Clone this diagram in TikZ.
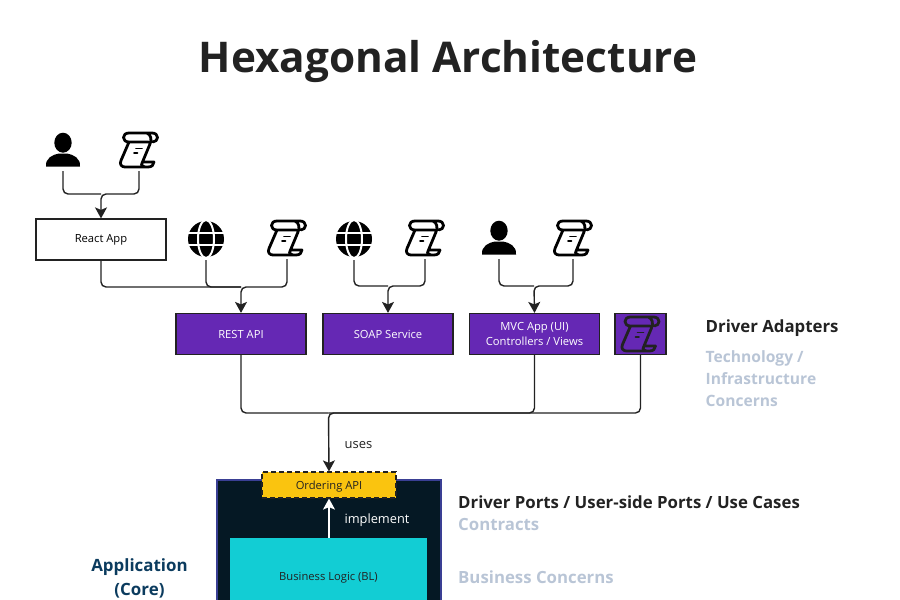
\documentclass[tikz,border=0pt]{standalone}
\usepackage{fontspec}
\setmainfont{Open Sans}
\usetikzlibrary{arrows.meta}
\definecolor{ink}{HTML}{222222}
\definecolor{purp}{HTML}{6528B4}
\definecolor{navy}{HTML}{051824}
\definecolor{navyedge}{HTML}{3A3F94}
\definecolor{amber}{HTML}{FAC40F}
\definecolor{teal}{HTML}{12CDD4}
\definecolor{mute}{HTML}{B9C5D6}
\definecolor{coreblue}{HTML}{0B3B5E}
\tikzset{
  link/.style={draw=ink,line width=1.4pt,rounded corners=5pt},
  tip/.style={-{Stealth[length=11pt,width=12pt,inset=2.5pt]}},
  icon/.style={inner sep=0pt,minimum width=38pt,minimum height=42pt},
  app/.style={draw=ink,line width=1.2pt,minimum width=130pt,minimum height=41pt,inner sep=0pt,align=center,font=\fontsize{11.2pt}{15pt}\selectfont},
  adapter/.style={app,fill=purp,text=white},
  head/.style={anchor=west,inner sep=0pt,font=\fontsize{16.8pt}{22pt}\selectfont\bfseries,text=ink,align=left},
  soft/.style={head,text=mute},
  pics/person/.style={code={
    \fill[black] (0,-7.3) ellipse[x radius=8.7,y radius=10];
    \fill[black] (-17,16.7) .. controls (-18,8) and (-10,4.5) .. (-4,3.5) -- (4,3.5) .. controls (10,4.5) and (18,8) .. (17,16.7) -- cycle;
  }},
  pics/globe/.style={code={
    \fill[black] (0,0) circle[radius=18];
    \draw[white,line width=2pt] (0,0) ellipse[x radius=8,y radius=19];
    \draw[white,line width=2pt] (-18,-6) -- (18,-6) (-18,6) -- (18,6);
  }},
  pics/scroll/.style={code={
    \draw[line width=2.8pt,line join=round,line cap=round,draw=#1]
      (9.5,-8) -- (-10,-8) .. controls (-13.5,-8) and (-15.5,-10) .. (-15.5,-12.5)
      .. controls (-15.5,-15) and (-13.5,-17) .. (-10,-17) -- (13,-17)
      .. controls (16.5,-17) and (18.5,-15) .. (18.5,-12.5)
      .. controls (18.5,-10) and (16.5,-8.5) .. (14,-8)
      (-10,-8) -- (-18,10.5)
      .. controls (-20,14.5) and (-17,17) .. (-14,17) -- (9,17)
      .. controls (12.5,17) and (15,15) .. (15,12) -- (3.5,12)
      .. controls (1.5,13.5) and (2,16) .. (6,17)
      (3.5,12) -- (11,-6) .. controls (13,-11) and (12,-15) .. (8,-17);
    \draw[line width=1.8pt,line cap=round,draw=#1] (-3,-1.5) -- (3,-1.5) (-5,3) -- (-1.5,3);
  }},
  pics/scroll/.default=black
}
\begin{document}
\begin{tikzpicture}[x=1pt,y=-1pt]
\useasboundingbox (0,0) rectangle (900,600);
\clip (0,0) rectangle (900,600);
\node[inner sep=0pt,font=\fontsize{42.3pt}{50pt}\selectfont\bfseries,text=ink] (title) at (448,62) {Hexagonal Architecture};
% top row of icons
\node[icon] (user1) at (63,150) {};
\node[icon] (doc1) at (139,150) {};
\node[icon] (web1) at (206,239) {};
\node[icon] (doc2) at (287,238) {};
\node[icon] (web2) at (354,239) {};
\node[icon] (doc3) at (425,238) {};
\node[icon] (user2) at (499,238) {};
\node[icon] (doc4) at (573,238) {};
\pic at (user1) {person};
\pic at (doc1) {scroll};
\pic at (web1) {globe};
\pic at (doc2) {scroll};
\pic at (web2) {globe};
\pic at (doc3) {scroll};
\pic at (user2) {person};
\pic at (doc4) {scroll};
% apps and adapters
\node[app] (react) at (101,239.5) {React App};
\node[adapter] (rest) at (241,334) {REST API};
\node[adapter] (soap) at (388,334) {SOAP Service};
\node[adapter] (mvc) at (534.5,334) {MVC App (UI)\\Controllers / Views};
\node[adapter,minimum width=51pt] (cli) at (640.5,334) {};
\pic at (cli) {scroll={ink}};
% core
\node[fill=navy,draw=navyedge,line width=1.2pt,minimum width=224pt,minimum height=170pt,inner sep=0pt] (core) at (329,565) {};
\node[fill=teal,minimum width=197pt,minimum height=80pt,inner sep=0pt] (logic) at (328.5,578) {};
\node[inner sep=0pt,text=ink,font=\fontsize{11.2pt}{15pt}\selectfont] (logictext) at (328.5,577.5) {Business Logic (BL)};
\node[fill=amber,draw=ink,dash pattern=on 5pt off 3pt,line width=1.2pt,minimum width=134pt,minimum height=26pt,inner sep=0pt,text depth=0pt,font=\fontsize{11.2pt}{15pt}\selectfont,text=ink] (api) at (329,485) {Ordering API};
% connectors
\coordinate (j1) at (101,194);
\coordinate (j2) at (241,287);
\coordinate (j3) at (388,286);
\coordinate (j4) at (534,286);
\coordinate (j5) at (328.5,413);
\draw[link] (user1.south) |- (j1);
\draw[link,tip] (doc1.south) |- (j1) -- (react.north);
\draw[link] (react.south) |- (j2);
\draw[link] (web1.south) |- (j2);
\draw[link,tip] (doc2.south) |- (j2) -- (rest.north);
\draw[link] (web2.south) |- (j3);
\draw[link,tip] (doc3.south) |- (j3) -- (soap.north);
\draw[link] (user2.south) |- (j4);
\draw[link,tip] (doc4.south) |- (j4) -- (mvc.north);
\draw[link] (rest.south) |- (j5);
\draw[link] (mvc.south) |- (j5);
\draw[link,tip] (cli.south) |- (j5) -- (api.north);
\draw[draw=white,line width=1.4pt,tip] (logic.north -| api.south) -- (api.south);
% labels
\node[inner sep=0pt,text=ink,font=\fontsize{13pt}{15pt}\selectfont] (uses) at (358.5,445) {uses};
\node[inner sep=0pt,text=white,font=\fontsize{12.8pt}{15pt}\selectfont] (impl) at (377,520) {implement};
\node[head] (driver) at (705.5,328) {Driver Adapters};
\node[soft,font=\fontsize{15.6pt}{22pt}\selectfont\bfseries] (tech) at (705.5,379) {Technology /\\Infrastructure\\Concerns};
\node[head] (ports) at (458,502) {Driver Ports / User-side Ports / Use Cases};
\node[soft] (contracts) at (458,524.5) {Contracts};
\node[soft] (business) at (458,577) {Business Concerns};
\node[inner sep=0pt,align=center,text=coreblue,font=\fontsize{16.9pt}{24pt}\selectfont\bfseries] (application) at (139.5,578) {Application\\(Core)};
\end{tikzpicture}
\end{document}
